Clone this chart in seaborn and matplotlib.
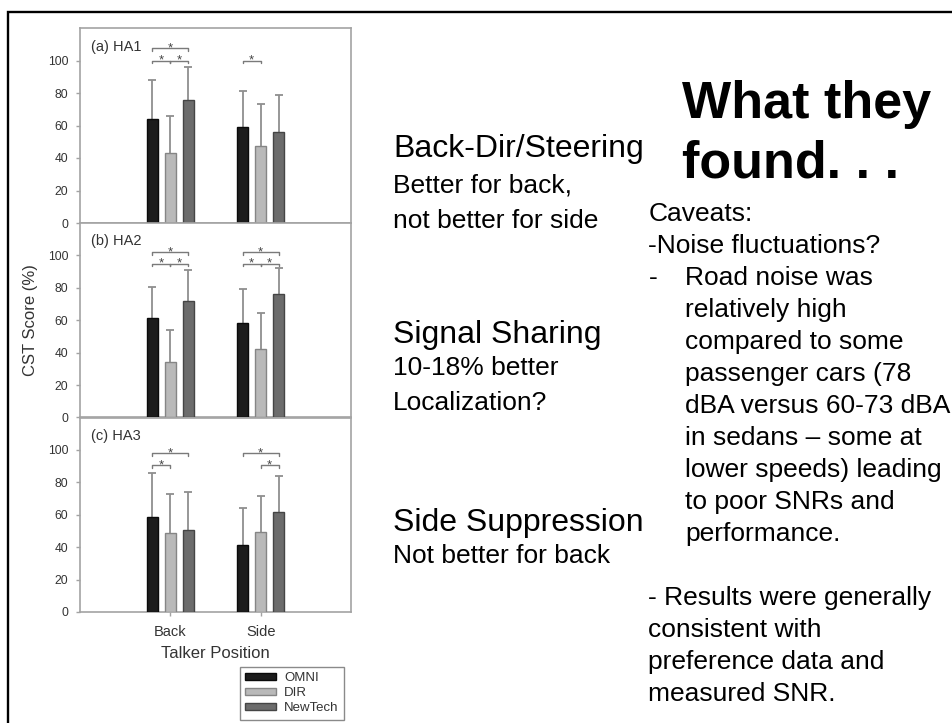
import numpy as np
import pandas as pd
import matplotlib
matplotlib.use("Agg")
import matplotlib.pyplot as plt
from matplotlib.patches import Rectangle, Patch
import seaborn as sns

# ---- data -------------------------------------------------------------
positions = ["Back", "Side"]
devices = ["OMNI", "DIR", "NewTech"]
panel_titles = ["(a) HA1", "(b) HA2", "(c) HA3"]

# mean CST score (%) per talker position (rows) and device (columns)
ha1_mean = [[64, 43, 76], [59, 47.5, 56]]
ha2_mean = [[61.5, 34.5, 72], [58, 42.5, 76.5]]
ha3_mean = [[58.5, 49, 50.5], [41.5, 49.5, 61.5]]

# standard deviations (upper error bars only)
ha1_sd = [[24, 23, 20], [22.5, 25.5, 23]]
ha2_sd = [[19, 19.5, 19], [21, 22, 15.5]]
ha3_sd = [[27, 24, 23.5], [22.5, 22, 22.5]]

# significant pairwise differences: (position, device i, device j, bracket level)
ha1_sig = [("Back", 0, 2, 107.5), ("Back", 0, 1, 100), ("Back", 1, 2, 100),
           ("Side", 0, 1, 100)]
ha2_sig = [("Back", 0, 2, 102), ("Back", 0, 1, 95), ("Back", 1, 2, 95),
           ("Side", 0, 2, 102), ("Side", 0, 1, 95), ("Side", 1, 2, 95)]
ha3_sig = [("Back", 0, 2, 98), ("Back", 0, 1, 90.5),
           ("Side", 0, 2, 98), ("Side", 1, 2, 90.5)]

yticks = [0, 20, 40, 60, 80, 100]

bar_colors = ["#1c1c1c", "#b9b9b9", "#6c6c6c"]
edge_colors = ["#0a0a0a", "#858585", "#454545"]

# ---- figure -----------------------------------------------------------
sns.set_style("white")
plt.rcParams["font.family"] = ["Liberation Sans", "DejaVu Sans"]

W, H = 952, 723
fig = plt.figure(figsize=(W / 100, H / 100), dpi=100)
fig.patch.set_facecolor("white")


def fx(x):
    return x / W


def fy(y):
    return 1 - y / H


# slide frame (top and left rules)
fig.add_artist(Rectangle((fx(7.8), -0.2), 1.5, fy(12.2) + 0.2, transform=fig.transFigure,
                         fill=False, edgecolor="black", linewidth=1.7))

ax_left, ax_right = 80, 351
panel_tops = [28, 223, 417.5]
panel_bottoms = [223, 417.5, 612]

means = [ha1_mean, ha2_mean, ha3_mean]
sds = [ha1_sd, ha2_sd, ha3_sd]
sigs = [ha1_sig, ha2_sig, ha3_sig]

spine_col = "#a3a3a3"
text_col = "#333333"

axes = []
for k in range(3):
    t, b = panel_tops[k], panel_bottoms[k]
    ax = fig.add_axes([fx(ax_left), fy(b), (ax_right - ax_left) / W, (b - t) / H])
    axes.append(ax)

    df = pd.DataFrame(
        [(p, d, means[k][i][j]) for i, p in enumerate(positions) for j, d in enumerate(devices)],
        columns=["position", "device", "score"],
    )
    sns.barplot(data=df, x="position", y="score", hue="device", order=positions,
                hue_order=devices, palette=bar_colors, width=0.6, gap=0.4,
                errorbar=None, legend=False, linewidth=1.0, ax=ax, zorder=3)

    centers = {}
    for j, cont in enumerate(ax.containers):
        for i, bar in enumerate(cont):
            bar.set_edgecolor(edge_colors[j])
            centers[(positions[i], j)] = bar.get_x() + bar.get_width() / 2

    # upper-only error bars
    xs = [centers[(p, j)] for p in positions for j in range(3)]
    ys = [means[k][i][j] for i in range(2) for j in range(3)]
    es = [sds[k][i][j] for i in range(2) for j in range(3)]
    eb = ax.errorbar(xs, ys, yerr=[np.zeros(len(es)), es], fmt="none",
                     ecolor="#8f8f8f", elinewidth=1.3, capsize=2.6, capthick=1.3, zorder=2)
    eb.lines[1][0].set_visible(False)

    # significance brackets
    for pos, i, j, lvl in sigs[k]:
        x0, x1 = centers[(pos, i)], centers[(pos, j)]
        ax.plot([x0, x0, x1, x1], [lvl - 1.8, lvl, lvl, lvl - 1.8],
                color="#7a7a7a", lw=1.0, zorder=4, clip_on=False)
        ax.annotate("*", xy=((x0 + x1) / 2, lvl), xytext=(0, -2.2),
                    textcoords="offset points", ha="center", va="baseline",
                    fontsize=9.5, color="#444444")

    ax.set_xlim(-1.0, 2.0)
    ax.set_ylim(0, 120)
    ax.set_yticks(yticks)
    ax.set_xticks(range(len(positions)))
    ax.set_xticklabels(positions)
    ax.set_xlabel("")
    ax.set_ylabel("")
    for s in ax.spines.values():
        s.set_visible(True)
        s.set_color(spine_col)
        s.set_linewidth(1.2)
    ax.tick_params(axis="y", left=True, direction="out", length=3, width=1,
                   color=spine_col, labelsize=8.7, labelcolor=text_col, pad=5.5)
    ax.tick_params(axis="x", bottom=True, direction="out", length=3, width=1,
                   color=spine_col, labelsize=10.5, labelcolor=text_col, pad=6.5,
                   labelbottom=(k == 2))
    ax.text(0.0395, 1 - 22.5 / (b - t), panel_titles[k], transform=ax.transAxes,
            fontsize=10.5, va="baseline", ha="left", color=text_col)

axes[2].set_xlabel("Talker Position", fontsize=12, color=text_col, labelpad=5)
fig.text(fx(31), fy(320), "CST Score (%)", rotation=90, ha="center", va="center",
         fontsize=12, color=text_col)

handles = [Patch(facecolor=c, edgecolor=e, linewidth=1.0) for c, e in zip(bar_colors, edge_colors)]
leg = fig.legend(handles, devices, loc="upper left", bbox_to_anchor=(fx(240), fy(666.7)),
                 bbox_transform=fig.transFigure, frameon=True, fancybox=False,
                 framealpha=1, edgecolor="#8a8a8a", fontsize=9.5, handlelength=2.3,
                 handleheight=0.45, handletextpad=0.65, borderpad=0.4,
                 labelspacing=0.24, borderaxespad=0)
leg.get_frame().set_linewidth(1.0)
for txt in leg.get_texts():
    txt.set_color(text_col)

# ---- slide text -------------------------------------------------------
ink = "black"
fig.text(fx(682), fy(118), "What they", fontsize=37.5, fontweight="bold", va="baseline", color=ink)
fig.text(fx(682), fy(178), "found. . .", fontsize=37.5, fontweight="bold", va="baseline", color=ink)

left_x = fx(393)
fig.text(left_x, fy(157), "Back-Dir/Steering", fontsize=23, va="baseline", color=ink)
fig.text(left_x, fy(192), "Better for back,", fontsize=19, va="baseline", color=ink)
fig.text(left_x, fy(228), "not better for side", fontsize=19, va="baseline", color=ink)
fig.text(left_x, fy(343), "Signal Sharing", fontsize=23, va="baseline", color=ink)
fig.text(left_x, fy(375), "10-18% better", fontsize=19, va="baseline", color=ink)
fig.text(left_x, fy(410), "Localization?", fontsize=19, va="baseline", color=ink)
fig.text(left_x, fy(531), "Side Suppression", fontsize=23, va="baseline", color=ink)
fig.text(left_x, fy(563), "Not better for back", fontsize=19, va="baseline", color=ink)

right_x = fx(648.5)
indent_x = fx(685)
fig.text(right_x, fy(221), "Caveats:", fontsize=19, va="baseline", color=ink)
fig.text(right_x, fy(253), "-Noise fluctuations?", fontsize=19, va="baseline", color=ink)
fig.text(right_x, fy(285), "-", fontsize=19, va="baseline", color=ink)
indented = ["Road noise was", "relatively high", "compared to some",
            "passenger cars (78", "dBA versus 60-73 dBA", "in sedans \u2013 some at",
            "lower speeds) leading", "to poor SNRs and", "performance."]
for n, line in enumerate(indented):
    fig.text(indent_x, fy(285 + 32 * n), line, fontsize=19, va="baseline", color=ink)
closing = ["- Results were generally", "consistent with",
           "preference data and", "measured SNR."]
for n, line in enumerate(closing):
    fig.text(right_x, fy(605 + 32 * n), line, fontsize=19, va="baseline", color=ink)

fig.savefig("out.png", dpi=100, facecolor="white")
